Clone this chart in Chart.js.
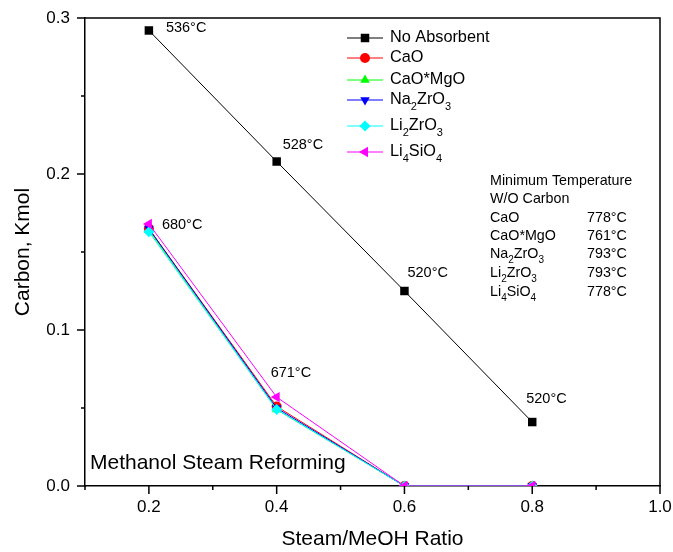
<!DOCTYPE html>
<html>
<head>
<meta charset="utf-8">
<script src="https://cdn.jsdelivr.net/npm/chart.js@4.4.1/dist/chart.umd.min.js"></script>
<style>
  html, body { margin: 0; padding: 0; background: #fff; }
  #wrap { width: 673px; height: 552px; }
</style>
</head>
<body>
<div id="wrap"><canvas id="chart" width="673" height="552"></canvas></div>
<script>
// ─── Data ────────────────────────────────────────────────────────────────────
const ratios      = [0.2, 0.4, 0.6, 0.8];
const seriesNames = ['No Absorbent', 'CaO', 'CaO*MgO', 'Na_2ZrO_3', 'Li_2ZrO_3', 'Li_4SiO_4'];
const noAbsorbent = [0.292, 0.208, 0.125, 0.041];
const cao         = [0.165, 0.051, 0, 0];
const caoMgo      = [0.164, 0.049, 0, 0];
const na2zro3     = [0.165, 0.050, 0, 0];
const li2zro3     = [0.163, 0.049, 0, 0];
const li4sio4     = [0.168, 0.057, 0, 0];

const xMajor = [0.2, 0.4, 0.6, 0.8, 1.0];
const xMinor = [0.1, 0.3, 0.5, 0.7, 0.9];
const yMajor = [0, 0.1, 0.2, 0.3];
const yMinor = [0.05, 0.15, 0.25];

const noAbsTemps   = ['536°C', '528°C', '520°C', '520°C'];
const li4Temps     = ['680°C', '671°C'];
const minTempHead  = ['Minimum Temperature', 'W/O Carbon'];
const minTempNames = ['CaO', 'CaO*MgO', 'Na_2ZrO_3', 'Li_2ZrO_3', 'Li_4SiO_4'];
const minTempVals  = ['778°C', '761°C', '793°C', '793°C', '778°C'];
const processName  = 'Methanol Steam Reforming';

// ─── Styles ──────────────────────────────────────────────────────────────────
const FONT = '"Liberation Sans", Arial, sans-serif';
const seriesData   = [noAbsorbent, cao, caoMgo, na2zro3, li2zro3, li4sio4];
const seriesColors = ['#000000', '#ff0000', '#00ff00', '#0000ff', '#00ffff', '#ff00ff'];
const pointStyles  = ['rect', 'circle', 'triangle', 'triangle', 'rectRot', 'triangle'];
const rotations    = [0, 0, 0, 180, 0, -90];
const radii        = [6, 5, 5.5, 5.5, 5.5, 6];

const datasets = seriesNames.map((name, i) => ({
  label: name,
  data: ratios.map((x, j) => ({ x, y: seriesData[i][j] })),
  borderColor: seriesColors[i],
  backgroundColor: seriesColors[i],
  borderWidth: 1,
  pointStyle: pointStyles[i],
  rotation: rotations[i],
  pointRadius: radii[i],
  pointBorderWidth: 0,
  order: seriesNames.length - i,
}));

// ─── Helpers ─────────────────────────────────────────────────────────────────
// draws text with "_x" subscripts, y is the vertical middle
function drawRich(ctx, str, x, y, size) {
  let cx = x;
  ctx.textAlign = 'left';
  ctx.textBaseline = 'middle';
  str.split(/(_.)/).forEach(p => {
    if (!p) return;
    if (p[0] === '_') {
      ctx.font = `${Math.round(size * 0.68)}px ${FONT}`;
      ctx.fillText(p[1], cx, y + size * 0.42);
      cx += ctx.measureText(p[1]).width;
    } else {
      ctx.font = `${size}px ${FONT}`;
      ctx.fillText(p, cx, y);
      cx += ctx.measureText(p).width;
    }
  });
}

const framePlugin = {
  id: 'frame',
  afterDraw(chart) {
    const { ctx, chartArea: a, scales: { x, y } } = chart;
    ctx.save();
    ctx.strokeStyle = '#000';
    ctx.lineWidth = 1.5;
    // top + right frame
    ctx.beginPath();
    ctx.moveTo(a.left, a.top); ctx.lineTo(a.right, a.top); ctx.lineTo(a.right, a.bottom);
    ctx.stroke();
    // ticks
    ctx.beginPath();
    xMajor.forEach(v => { const p = x.getPixelForValue(v); ctx.moveTo(p, a.bottom); ctx.lineTo(p, a.bottom + 8); });
    xMinor.forEach(v => { const p = x.getPixelForValue(v); ctx.moveTo(p, a.bottom); ctx.lineTo(p, a.bottom + 4); });
    yMajor.forEach(v => { const p = y.getPixelForValue(v); ctx.moveTo(a.left, p); ctx.lineTo(a.left - 8, p); });
    yMinor.forEach(v => { const p = y.getPixelForValue(v); ctx.moveTo(a.left, p); ctx.lineTo(a.left - 4, p); });
    ctx.stroke();

    ctx.fillStyle = '#000';
    // temperature labels at points
    const offNo = [[17, -2], [6, -17], [3, -18], [-6, -23]];
    noAbsTemps.forEach((t, j) => {
      const px = x.getPixelForValue(ratios[j]) + offNo[j][0];
      const py = y.getPixelForValue(noAbsorbent[j]) + offNo[j][1];
      drawRich(ctx, t, px, py, 14.5);
    });
    const offLi = [[13, 1], [-6, -24]];
    li4Temps.forEach((t, j) => {
      const px = x.getPixelForValue(ratios[j]) + offLi[j][0];
      const py = y.getPixelForValue(li4sio4[j]) + offLi[j][1];
      drawRich(ctx, t, px, py, 14.5);
    });

    // minimum temperature block
    const rowsY = [181, 199, 218, 236, 254, 273, 292];
    minTempHead.forEach((t, i) => drawRich(ctx, t, 490, rowsY[i], 14.3));
    minTempNames.forEach((t, i) => {
      drawRich(ctx, t, 490, rowsY[i + 2], 14.3);
      drawRich(ctx, minTempVals[i], 587, rowsY[i + 2], 14.3);
    });

    // process name
    drawRich(ctx, processName, a.left + 5, 463, 21);

    // legend
    const legY = [38, 58, 80, 100, 126, 152];
    seriesNames.forEach((name, i) => {
      const ly = legY[i];
      ctx.strokeStyle = seriesColors[i];
      ctx.fillStyle = seriesColors[i];
      ctx.lineWidth = 1;
      ctx.beginPath(); ctx.moveTo(347, ly); ctx.lineTo(383, ly); ctx.stroke();
      Chart.helpers.drawPoint(ctx, {
        pointStyle: pointStyles[i], rotation: rotations[i], radius: radii[i], borderWidth: 0,
      }, 365, ly);
      ctx.fillStyle = '#000';
      drawRich(ctx, name, 390, ly, 16.3);
    });
    ctx.restore();
  },
};

// ─── Chart ───────────────────────────────────────────────────────────────────
new Chart(document.getElementById('chart'), {
  type: 'line',
  data: { datasets },
  plugins: [framePlugin],
  options: {
    responsive: false,
    animation: false,
    devicePixelRatio: 1,
    layout: { padding: { top: 18, right: 13, left: 0, bottom: 0 } },
    plugins: { legend: { display: false }, tooltip: { enabled: false } },
    scales: {
      x: {
        type: 'linear', min: 0.1, max: 1.0,
        afterBuildTicks: s => { s.ticks = xMajor.map(v => ({ value: v })); },
        afterFit: s => { s.height = 66; s.paddingLeft = 0; s.paddingRight = 0; },
        grid: { display: false, drawTicks: false },
        border: { display: true, color: '#000', width: 1.5 },
        ticks: { color: '#000', padding: 11, font: { family: FONT, size: 17 }, callback: v => v.toFixed(1) },
        title: { display: true, text: 'Steam/MeOH Ratio', color: '#000', padding: { top: 0, bottom: 0 }, font: { family: FONT, size: 21 } },
      },
      y: {
        type: 'linear', min: 0, max: 0.3,
        afterBuildTicks: s => { s.ticks = yMajor.map(v => ({ value: v })); },
        afterFit: s => { s.width = 85; s.paddingTop = 0; s.paddingBottom = 0; },
        grid: { display: false, drawTicks: false },
        border: { display: true, color: '#000', width: 1.5 },
        ticks: { color: '#000', padding: 15, font: { family: FONT, size: 17 }, callback: v => v.toFixed(1) },
        title: { display: true, text: 'Carbon, Kmol', color: '#000', padding: { top: 11, bottom: 0 }, font: { family: FONT, size: 21 } },
      },
    },
  },
});
</script>
</body>
</html>
